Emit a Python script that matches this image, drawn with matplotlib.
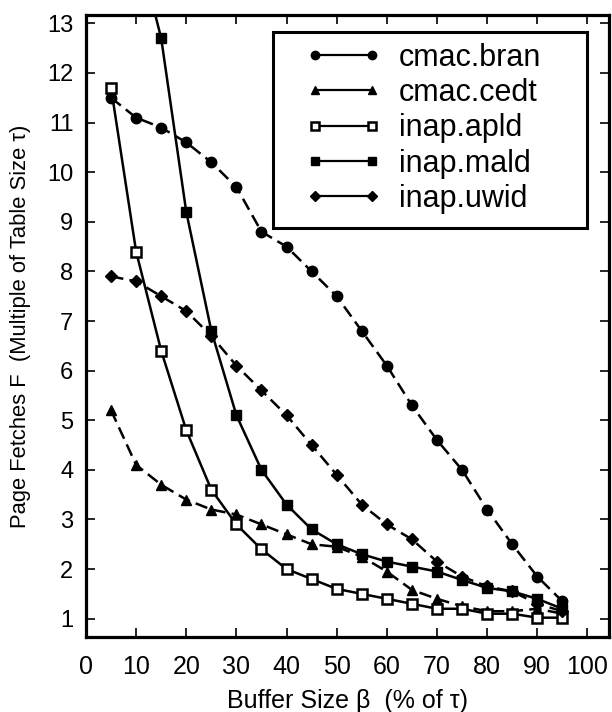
import numpy as np
import matplotlib
matplotlib.use('Agg')
import matplotlib.pyplot as plt
from matplotlib.patches import Rectangle

plt.rcParams['font.family'] = ['Liberation Sans', 'DejaVu Sans']

# buffer size (% of tau)
beta = [5, 10, 15, 20, 25, 30, 35, 40, 45, 50, 55, 60, 65, 70, 75, 80, 85, 90, 95]

cmac_bran = [11.5, 11.1, 10.9, 10.6, 10.2, 9.7, 8.8, 8.5, 8.0, 7.5, 6.8, 6.1, 5.3, 4.6, 4.0, 3.2, 2.5, 1.85, 1.35]
cmac_cedt = [5.2, 4.1, 3.7, 3.4, 3.2, 3.1, 2.9, 2.7, 2.5, 2.45, 2.25, 1.95, 1.58, 1.4, 1.25, 1.15, 1.15, 1.2, 1.1]
inap_apld = [11.7, 8.4, 6.4, 4.8, 3.6, 2.9, 2.4, 2.0, 1.8, 1.6, 1.5, 1.4, 1.3, 1.2, 1.2, 1.1, 1.1, 1.02, 1.02]
# mald starts above the top of the plot
beta_mald = [10, 15, 20, 25, 30, 35, 40, 45, 50, 55, 60, 65, 70, 75, 80, 85, 90, 95]
inap_mald = [14.7, 12.7, 9.2, 6.8, 5.1, 4.0, 3.3, 2.8, 2.5, 2.3, 2.15, 2.05, 1.95, 1.78, 1.62, 1.55, 1.4, 1.2]
inap_uwid = [7.9, 7.8, 7.5, 7.2, 6.7, 6.1, 5.6, 5.1, 4.5, 3.9, 3.3, 2.9, 2.6, 2.15, 1.85, 1.65, 1.55, 1.3, 1.15]

fig = plt.figure(figsize=(6.12, 7.12), dpi=100)
ax = fig.add_axes([0.1405, 0.1053, 0.8545, 0.8737])

lw = 1.8
dsh = (5, 2.5)
ax.plot(beta, cmac_bran, color='black', lw=lw, dashes=dsh, marker='o', ms=7.5, label='cmac.bran')
ax.plot(beta, cmac_cedt, color='black', lw=lw, dashes=dsh, marker='^', ms=7.5, label='cmac.cedt')
ax.plot(beta, inap_apld, color='black', lw=lw, marker='s', ms=7, mfc='white', mew=1.8, label='inap.apld')
ax.plot(beta_mald, inap_mald, color='black', lw=lw, marker='s', ms=7, label='inap.mald')
ax.plot(beta, inap_uwid, color='black', lw=lw, dashes=dsh, marker='D', ms=6, label='inap.uwid')

ax.set_xlim(0, 104.3)
ax.set_ylim(0.63, 13.17)
ax.set_xticks(np.arange(0, 101, 10))
ax.set_yticks(np.arange(1, 14, 1))
ax.tick_params(direction='in', length=6.5, width=1.2, top=True, right=True)
ax.tick_params(axis='x', pad=13, labelsize=18)
ax.tick_params(axis='y', pad=9, labelsize=17)
for s in ax.spines.values():
    s.set_linewidth(2.3)

ax.set_xlabel('Buffer Size β  (% of τ)', fontsize=18, labelpad=7)
ax.set_ylabel('Page Fetches F  (Multiple of Table Size τ)', fontsize=15.8, labelpad=12)

# legend box drawn on its own, text/handles placed inside it
box = Rectangle((0.3576, 0.6576), 0.6004, 0.3151, transform=ax.transAxes,
                facecolor='white', edgecolor='black', lw=2.2, zorder=5)
ax.add_patch(box)
leg = ax.legend(loc='upper left', bbox_to_anchor=(0.4207, 0.955), fontsize=22, frameon=False,
                handlelength=2.45, numpoints=2, markerscale=0.8, borderpad=0, borderaxespad=0,
                labelspacing=0.17, handletextpad=0.6)
leg.set_zorder(6)
for h in leg.get_lines():
    h.set_linestyle('-')
    h.set_linewidth(1.6)

fig.savefig('out.png', dpi=100)
